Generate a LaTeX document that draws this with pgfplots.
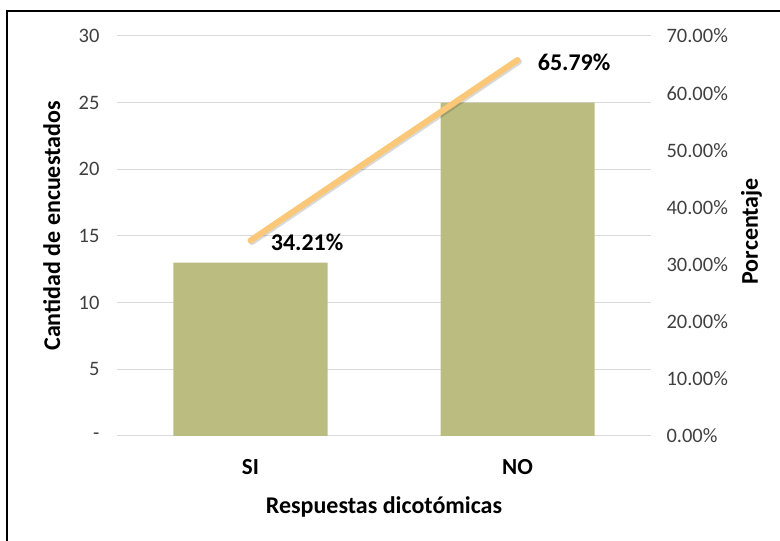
\documentclass[border=0pt]{standalone}
\usepackage{pgfplots}
\pgfplotsset{compat=1.18}
\usepackage{fontspec}
\setmainfont{Carlito}

\definecolor{barcol}{RGB}{187,188,127}
\definecolor{linecol}{RGB}{250,200,120}
\definecolor{gridcol}{RGB}{217,217,217}
\definecolor{tickcol}{RGB}{64,64,64}

\pgfplotsset{
  base/.style={
    scale only axis, width=534pt, height=400pt,
    at={(0,0)}, anchor=south west,
    xmin=-0.5, xmax=1.5, ymin=0,
    tick style={draw=none},
    yticklabel style={font=\fontsize{20.5}{24}\selectfont, text=tickcol},
    label style={font=\fontsize{24}{28}\selectfont\bfseries},
  }
}

\begin{document}
\begin{tikzpicture}
\useasboundingbox (-117pt,-105pt) rectangle (663pt,436pt);

% counts
\begin{axis}[base,
    ymax=30,
    ytick={0,5,...,30},
    yticklabels={-,5,10,15,20,25,30},
    yticklabel style={anchor=east, xshift=-14pt},
    ymajorgrids, grid style={gridcol, line width=1pt},
    axis x line*=bottom, axis y line*=left,
    y axis line style={draw=none},
    x axis line style={gridcol, line width=1pt, -},
    xtick={0,1}, xticklabels={SI,NO},
    xticklabel style={font=\fontsize{23}{26}\selectfont\bfseries, anchor=center, yshift=-31pt},
    xlabel={Respuestas dicotómicas},
    xlabel style={at={(axis description cs:0.5,-0.1775)}, anchor=center},
    ylabel={Cantidad de encuestados},
    ylabel style={at={(axis description cs:-0.122,0.525)}, anchor=center},
  ]
  \addplot[ybar, bar width=154pt, fill=barcol, draw=none] coordinates {(0,13) (1,25)};
\end{axis}

% percentages
\begin{axis}[base,
    ymax=70,
    ytick={0,10,...,70},
    yticklabels={0.00\%,10.00\%,20.00\%,30.00\%,40.00\%,50.00\%,60.00\%,70.00\%},
    yticklabel style={anchor=west, xshift=12pt},
    axis y line*=right, axis x line=none,
    y axis line style={draw=none},
    ylabel={Porcentaje},
    ylabel style={at={(axis description cs:1.188,0.512)}, anchor=center},
    /pgf/number format/assume math mode=true,
  ]
  \addplot[black, opacity=0.15, line width=6pt, line cap=round, shift={(1.5pt,-1.5pt)}, forget plot]
    coordinates {(0,34.21) (1,65.79)};
  \addplot[linecol, line width=6pt, line cap=round,
    nodes near coords={\pgfmathprintnumber[fixed,precision=2,zerofill]{\pgfplotspointmeta}\%},
    every node near coord/.append style={text=black, anchor=west, xshift=14pt, yshift=-2pt,
      font=\fontsize{24}{28}\selectfont\bfseries}]
    coordinates {(0,34.21) (1,65.79)};
\end{axis}

\draw[line width=2pt] (-110pt,-140pt) rectangle (700pt,425pt);
\end{tikzpicture}
\end{document}
